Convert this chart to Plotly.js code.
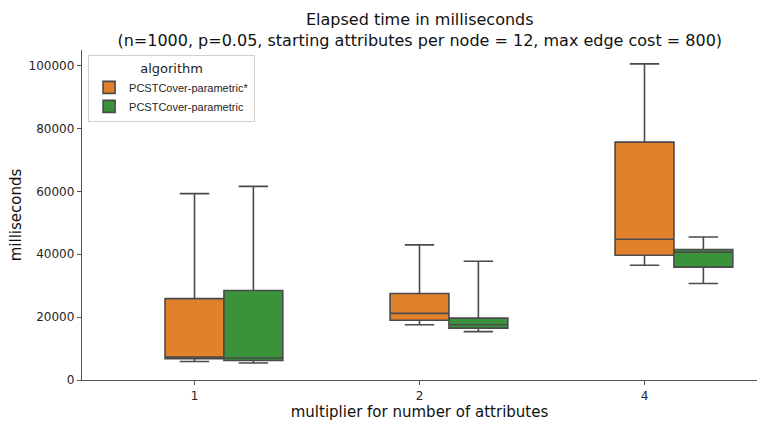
<!DOCTYPE html>
<html><head><meta charset="utf-8">
<script src="https://cdn.plot.ly/plotly-3.0.1.min.js"></script>
<style>body{margin:0;padding:0;background:#fff}#chart{width:766px;height:421px}</style>
</head><body><div id="chart"></div>
<script>
const categories = ['1', '2', '4'];
const seriesNames = ['PCSTCover-parametric*', 'PCSTCover-parametric'];
// orange series (PCSTCover-parametric*)
const aLower  = [5900, 17600, 36500];
const aQ1     = [6800, 19000, 39700];
const aMedian = [7300, 21200, 44800];
const aQ3     = [25900, 27500, 75700];
const aUpper  = [59300, 43000, 100600];
// green series (PCSTCover-parametric)
const bLower  = [5400, 15400, 30700];
const bQ1     = [6200, 16500, 35900];
const bMedian = [7000, 17600, 40700];
const bQ3     = [28500, 19700, 41500];
const bUpper  = [61600, 37800, 45500];
const colors = ['#e1812c', '#3a923a'];

const lineCol = '#4a4a4a';
function mk(name, col, lo, q1, med, q3, up) {
  return {
    type: 'box', name: name, x: categories,
    lowerfence: lo, q1: q1, median: med, q3: q3, upperfence: up,
    fillcolor: col, line: {color: lineCol, width: 1.6},
    whiskerwidth: 0.5, boxpoints: false, hoverinfo: 'none'
  };
}
// invisible slot so that the first series sits centred on its tick (as in the reference)
const slot = mk('', 'rgba(0,0,0,0)', aLower, aQ1, aMedian, aQ3, aUpper);
slot.line = {color: 'rgba(0,0,0,0)', width: 0};
slot.showlegend = false;
const data = [
  slot,
  mk(seriesNames[0], colors[0], aLower, aQ1, aMedian, aQ3, aUpper),
  mk(seriesNames[1], colors[1], bLower, bQ1, bMedian, bQ3, bUpper)
];
const font = 'DejaVu Sans, sans-serif';
const layout = {
  width: 766, height: 421,
  margin: {l: 82, r: 9, t: 50, b: 41},
  paper_bgcolor: '#fff', plot_bgcolor: '#fff',
  font: {family: font, color: '#262626', size: 11},
  title: {text: 'Elapsed time in milliseconds<br>(n=1000, p=0.05, starting attributes per node = 12, max edge cost = 800)',
          font: {size: 16, color: '#111'}, x: 0.548, xanchor: 'center', yref: 'container', y: 0.94, yanchor: 'middle'},
  boxmode: 'group', boxgap: 0.215, boxgroupgap: 0,
  xaxis: {type: 'category', range: [-0.5, 2.5], showgrid: false, zeroline: false,
          showline: true, linecolor: '#555', linewidth: 1.2, ticks: 'outside', ticklen: 4,
          tickcolor: '#555', tickfont: {size: 12, color: '#262626'},
          title: {text: 'multiplier for number of attributes', font: {size: 15, color: '#111'}, standoff: 5}},
  yaxis: {range: [0, 105000], showgrid: false, zeroline: false, showline: true,
          linecolor: '#555', linewidth: 1.2, ticks: 'outside', ticklen: 4, tickcolor: '#555',
          tickvals: [0, 20000, 40000, 60000, 80000, 100000],
          ticktext: ['0', '20000', '40000', '60000', '80000', '100000'],
          tickfont: {size: 12, color: '#262626'},
          title: {text: 'milliseconds', font: {size: 15, color: '#111'}, standoff: 3}},
  legend: {x: 0.009, y: 0.985, xanchor: 'left', yanchor: 'top',
           bgcolor: 'rgba(255,255,255,0.9)', bordercolor: '#d0d0d0', borderwidth: 1,
           font: {family: 'Liberation Sans Narrow, Liberation Sans, Arial, sans-serif', size: 11, color: '#262626'},
           title: {text: 'algorithm', side: 'top center', font: {family: font, size: 13, color: '#222'}},
           tracegroupgap: 2, itemwidth: 30}
};
Plotly.newPlot('chart', data, layout, {displayModeBar: false, staticPlot: true});
</script></body></html>
